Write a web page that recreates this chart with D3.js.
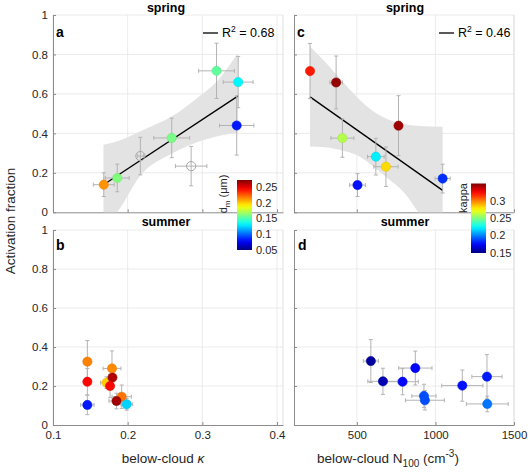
<!DOCTYPE html>
<html><head><meta charset="utf-8">
<script src="https://cdn.jsdelivr.net/npm/d3@7"></script>
<style>
body{margin:0;background:#fff;}
svg{display:block;font-family:"Liberation Sans",Arial,Helvetica,sans-serif;}
</style></head>
<body><svg id="chart" width="529" height="473"></svg>
<script>
// ---------- data ----------
const afTicks = [0, 0.2, 0.4, 0.6, 0.8, 1];
const kappaTicks = [0.1, 0.2, 0.3, 0.4];
const nTicks = [500, 1000, 1500];
const dmTicks = [0.05, 0.1, 0.15, 0.2, 0.25];
const kappaCbTicks = [0.15, 0.2, 0.25, 0.3];

// panel a (spring, kappa)
const aKappa    = [0.168, 0.186, 0.217, 0.259, 0.285, 0.319, 0.348, 0.346];
const aAF       = [0.14, 0.174, 0.285, 0.377, 0.234, 0.717, 0.66, 0.44];
const aKappaErr = [0.014, 0.016, 0.004, 0.024, 0.021, 0.024, 0.02, 0.023];
const aAFErr    = [0.06, 0.07, 0.095, 0.1, 0.1, 0.14, 0.13, 0.15];
const aDm       = [0.213, 0.162, null, 0.16, null, 0.155, 0.132, 0.083];
const aFitX = [0.1676, 0.348];
const aFitY = [0.14, 0.59];
const aBandX     = [0.1676, 0.186, 0.2164, 0.2608, 0.292, 0.323, 0.3475];
const aBandUpper = [0.342, 0.36, 0.41, 0.49, 0.576, 0.678, 0.807];
const aBandLower = [-0.08, 0.0, 0.183, 0.30, 0.354, 0.388, 0.405];

// panel b (summer, kappa)
const bKappa    = [0.146, 0.146, 0.146, 0.1716, 0.179, 0.1796, 0.1764, 0.192, 0.185, 0.1987];
const bAF       = [0.325, 0.222, 0.103, 0.217, 0.29, 0.243, 0.2, 0.145, 0.123, 0.106];
const bKappaErr = [0.002, 0.002, 0.009, 0.008, 0.012, 0.004, 0.004, 0.013, 0.01, 0.008];
const bAFErr    = [0.108, 0.068, 0.05, 0.03, 0.09, 0.05, 0.06, 0.06, 0.04, 0.03];
const bDm       = [0.217, 0.244, 0.083, 0.2, 0.215, 0.262, 0.244, 0.22, 0.266, 0.124];

// panel c (spring, N100)
const cN      = [202, 368, 408, 504, 621, 685, 765, 1046];
const cAF     = [0.716, 0.658, 0.376, 0.138, 0.282, 0.231, 0.439, 0.171];
const cNErr   = [5, 40, 73, 50, 53, 77, 5, 48];
const cAFErr  = [0.14, 0.134, 0.097, 0.058, 0.093, 0.1, 0.152, 0.073];
const cKappa  = [0.32, 0.346, 0.26, 0.178, 0.222, 0.282, 0.344, 0.184];
const cFitX = [202, 1046];
const cFitY = [0.585, 0.111];
const cBandX     = [202, 300, 400, 500, 600, 700, 800, 900, 1046];
const cBandUpper = [0.84, 0.76, 0.67, 0.585, 0.515, 0.47, 0.448, 0.438, 0.434];
const cBandLower = [0.333, 0.33, 0.315, 0.29, 0.235, 0.17, 0.10, -0.01, -0.15];

// panel d (summer, N100)
const dN      = [589, 666, 791, 872, 927, 933, 1171, 1328, 1330];
const dAF     = [0.328, 0.224, 0.222, 0.292, 0.149, 0.127, 0.202, 0.248, 0.108];
const dNErr   = [48, 96, 100, 106, 77, 124, 131, 96, 133];
const dAFErr  = [0.11, 0.067, 0.067, 0.087, 0.06, 0.05, 0.08, 0.113, 0.04];
const dKappa  = [0.156, 0.16, 0.176, 0.176, 0.19, 0.19, 0.178, 0.18, 0.198];

// ---------- helpers ----------
function jet(t){
  t = Math.max(0, Math.min(1, t));
  const c = v => Math.round(255*Math.max(0, Math.min(1, v)));
  return `rgb(${c(1.5-Math.abs(4*t-3))},${c(1.5-Math.abs(4*t-2))},${c(1.5-Math.abs(4*t-1))})`;
}
const dmNorm = d3.scaleLinear([0.05, 0.273], [0, 1]);
const kNorm  = d3.scaleLinear([0.15, 0.35], [0, 1]);

const svg = d3.select("#chart");
const defs = svg.append("defs");

const xK = d3.scaleLinear([0.1, 0.408], [53, 283]);
const xN = d3.scaleLinear([100, 1500], [294, 514]);
const yTop = d3.scaleLinear([0, 1], [212.3, 15]);
const yBot = d3.scaleLinear([0, 1], [425, 230]);

const axisCol = "#8c8c8c", gridCol = "#e6e6e6", textCol = "#262626", errCol = "#b3b3b3";

function panel(id, x, y, xticks, showX, showY){
  const g = svg.append("g");
  const [x0, x1] = x.range(); const [y0, y1] = y.range();
  defs.append("clipPath").attr("id", "clip"+id)
    .append("rect").attr("x", x0).attr("y", y1).attr("width", x1-x0).attr("height", y0-y1);
  // grid
  g.selectAll(".gx").data(xticks).join("line")
    .attr("x1", d=>x(d)).attr("x2", d=>x(d)).attr("y1", y0).attr("y2", y1)
    .attr("stroke", gridCol).attr("stroke-width", 0.8);
  g.selectAll(".gy").data(afTicks.slice(1)).join("line")
    .attr("x1", x0).attr("x2", x1).attr("y1", d=>y(d)).attr("y2", d=>y(d))
    .attr("stroke", gridCol).attr("stroke-width", 0.8);
  // right edge
  g.append("line").attr("x1", x1).attr("x2", x1).attr("y1", y0).attr("y2", y1)
    .attr("stroke", "#d9d9d9").attr("stroke-width", 0.8);
  // axes
  const ax = g.append("g").attr("transform", `translate(0,${y0})`)
    .call(d3.axisBottom(x).tickValues(xticks).tickSizeInner(-3).tickSizeOuter(0)
      .tickFormat(showX ? d3.format("") : () => ""));
  const ay = g.append("g").attr("transform", `translate(${x0},0)`)
    .call(d3.axisLeft(y).tickValues(afTicks).tickSizeInner(-3).tickSizeOuter(0)
      .tickFormat(showY ? d3.format("") : () => ""));
  [ax, ay].forEach(a => {
    a.select(".domain").attr("stroke", axisCol);
    a.selectAll(".tick line").attr("stroke", axisCol);
    a.selectAll("text").attr("fill", textCol).attr("font-size", 11.5)
      .attr("font-family", "Liberation Sans, Arial, sans-serif");
  });
  ax.selectAll("text").attr("dy", "0.95em");
  ay.selectAll("text").attr("x", -5);
  return g;
}

function band(g, id, x, y, bx, bu, bl){
  const data = bx.map((v,i)=>({x:v, u:bu[i], l:bl[i]}));
  g.append("path").datum(data).attr("clip-path", `url(#clip${id})`)
    .attr("d", d3.area().x(d=>x(d.x)).y0(d=>y(d.l)).y1(d=>y(d.u)).curve(d3.curveMonotoneX))
    .attr("fill", "#e3e3e3");
}
function fit(g, x, y, fx, fy){
  g.append("path").datum(fx.map((v,i)=>[v, fy[i]]))
    .attr("d", d3.line().x(d=>x(d[0])).y(d=>y(d[1])))
    .attr("stroke", "#000").attr("stroke-width", 1.3).attr("fill", "none");
}
function points(g, x, y, xs, ys, xe, ye, cv, norm){
  const pts = xs.map((v,i)=>({x:v, y:ys[i], xe:xe[i], ye:ye[i], c:cv[i]}));
  const eg = g.append("g").attr("stroke", errCol).attr("stroke-width", 1);
  pts.forEach(p => {
    const px = x(p.x), py = y(p.y);
    const ya = y(p.y + p.ye), yb = y(p.y - p.ye);
    eg.append("line").attr("x1", px).attr("x2", px).attr("y1", ya).attr("y2", yb);
    eg.append("line").attr("x1", px-2).attr("x2", px+2).attr("y1", ya).attr("y2", ya);
    eg.append("line").attr("x1", px-2).attr("x2", px+2).attr("y1", yb).attr("y2", yb);
    const xa = x(p.x - p.xe), xb = x(p.x + p.xe);
    eg.append("line").attr("x1", xa).attr("x2", xb).attr("y1", py).attr("y2", py);
    eg.append("line").attr("x1", xa).attr("x2", xa).attr("y1", py-2).attr("y2", py+2);
    eg.append("line").attr("x1", xb).attr("x2", xb).attr("y1", py-2).attr("y2", py+2);
  });
  g.selectAll(null).data(pts).join("circle")
    .attr("cx", d=>x(d.x)).attr("cy", d=>y(d.y)).attr("r", 4.6)
    .attr("fill", d => d.c == null ? "none" : jet(norm(d.c)))
    .attr("stroke", d => d.c == null ? "#a6a6a6" : d3.color(jet(norm(d.c))).darker(0.3))
    .attr("stroke-width", d => d.c == null ? 1 : 0.6);
}
function label(txt, x, y, opts={}){
  return svg.append("text").attr("x", x).attr("y", y).text(txt)
    .attr("font-size", opts.size || 12).attr("font-weight", opts.bold ? "bold" : "normal")
    .attr("text-anchor", opts.anchor || "start").attr("fill", opts.fill || "#000");
}
function legend(x, y, r2){
  svg.append("line").attr("x1", x).attr("x2", x+15).attr("y1", y-4).attr("y2", y-4)
    .attr("stroke", "#000").attr("stroke-width", 1.3);
  const t = svg.append("text").attr("x", x+19).attr("y", y).attr("font-size", 12.5).attr("fill", "#000");
  t.append("tspan").text("R");
  t.append("tspan").text("2").attr("font-size", 8.5).attr("dy", -5.5);
  t.append("tspan").text(" = " + r2).attr("dy", 5.5);
}
function colorbar(id, x0, y0, w, h, domain, ticks, title, titleX){
  const grad = defs.append("linearGradient").attr("id", id)
    .attr("x1", 0).attr("y1", 1).attr("x2", 0).attr("y2", 0);
  d3.range(0, 1.0001, 0.05).forEach(t => grad.append("stop").attr("offset", t).attr("stop-color", jet(t)));
  svg.append("rect").attr("x", x0).attr("y", y0).attr("width", w).attr("height", h)
    .attr("fill", `url(#${id})`);
  const s = d3.scaleLinear(domain, [y0+h, y0]);
  svg.append("g").selectAll("text").data(ticks).join("text")
    .attr("x", x0+w+4).attr("y", d=>s(d)).attr("dy", "0.35em")
    .attr("font-size", 11).attr("fill", textCol).text(d=>d);
  return s;
}

// ---------- panels ----------
const ga = panel("a", xK, yTop, kappaTicks, false, true);
band(ga, "a", xK, yTop, aBandX, aBandUpper, aBandLower);
fit(ga, xK, yTop, aFitX, aFitY);
points(ga, xK, yTop, aKappa, aAF, aKappaErr, aAFErr, aDm, dmNorm);

const gc = panel("c", xN, yTop, nTicks.concat([]), false, false);
band(gc, "c", xN, yTop, cBandX, cBandUpper, cBandLower);
fit(gc, xN, yTop, cFitX, cFitY);
points(gc, xN, yTop, cN, cAF, cNErr, cAFErr, cKappa, kNorm);

const gb = panel("b", xK, yBot, kappaTicks, true, true);
points(gb, xK, yBot, bKappa, bAF, bKappaErr, bAFErr, bDm, dmNorm);

const gd = panel("d", xN, yBot, nTicks, true, false);
points(gd, xN, yBot, dN, dAF, dNErr, dAFErr, dKappa, kNorm);

// titles, letters
label("spring", 166, 12, {bold:true, anchor:"middle", size:12.5});
label("spring", 405, 12, {bold:true, anchor:"middle", size:12.5});
label("summer", 166, 226, {bold:true, anchor:"middle", size:12.5});
label("summer", 405, 226, {bold:true, anchor:"middle", size:12.5});
label("a", 56, 37, {bold:true, size:14});
label("c", 297, 37, {bold:true, size:14});
label("b", 56, 250, {bold:true, size:14});
label("d", 298, 250, {bold:true, size:14});
legend(203, 37, "0.68");
legend(439, 37, "0.46");

// colorbars
colorbar("cbA", 237, 180, 15, 70, [0.05, 0.273], dmTicks);
const dmT = svg.append("text").attr("transform", "translate(227,194) rotate(-90)")
  .attr("text-anchor", "middle").attr("font-size", 11).attr("fill", textCol);
dmT.append("tspan").text("d");
dmT.append("tspan").text("m").attr("font-size", 8).attr("dy", 3);
dmT.append("tspan").text(" (μm)").attr("dy", -3);
colorbar("cbC", 471, 183.5, 15, 69.5, [0.15, 0.35], kappaCbTicks);
svg.append("text").attr("transform", "translate(467,198) rotate(-90)")
  .attr("text-anchor", "middle").attr("font-size", 11).attr("fill", textCol).text("kappa");

// axis titles
svg.append("text").attr("transform", "translate(15,221) rotate(-90)")
  .attr("text-anchor", "middle").attr("font-size", 13.5).attr("fill", textCol).text("Activation fraction");
const xt1 = svg.append("text").attr("x", 163).attr("y", 463).attr("text-anchor", "middle")
  .attr("font-size", 13.5).attr("fill", textCol);
xt1.append("tspan").text("below-cloud ");
xt1.append("tspan").text("κ").attr("font-style", "italic");
const xt2 = svg.append("text").attr("x", 388).attr("y", 463).attr("text-anchor", "middle")
  .attr("font-size", 13.5).attr("fill", textCol);
xt2.append("tspan").text("below-cloud N");
xt2.append("tspan").text("100").attr("font-size", 10).attr("dy", 4);
xt2.append("tspan").text(" (cm").attr("dy", -4);
xt2.append("tspan").text("-3").attr("font-size", 10).attr("dy", -6);
xt2.append("tspan").text(")").attr("dy", 6);
</script></body></html>
